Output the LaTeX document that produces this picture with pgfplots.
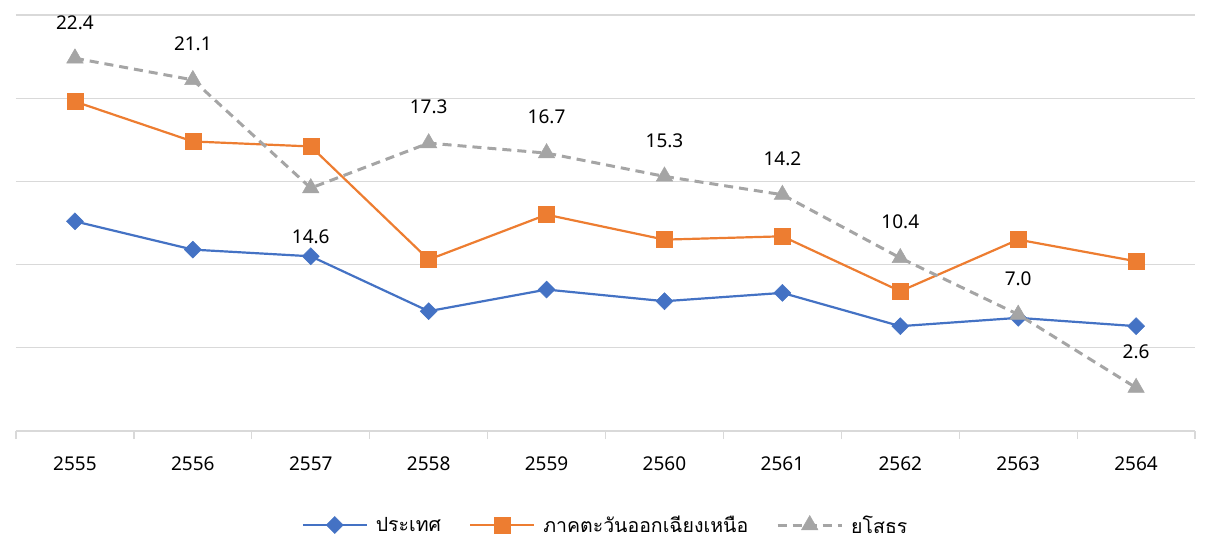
\documentclass[border=0pt]{standalone}
\usepackage{pgfplots}
\pgfplotsset{compat=1.18}
\usepackage{fontspec}
\setmainfont{Noto Sans}
\newfontfamily\thai[Script=Thai]{Loma}
\definecolor{cblue}{HTML}{4472C4}
\definecolor{corange}{HTML}{ED7D31}
\definecolor{cgray}{HTML}{A5A5A5}
\definecolor{cgrid}{HTML}{D9D9D9}
\begin{document}
\begin{tikzpicture}[x=1pt,y=1pt]
\path (0,0) rectangle (1205,541);
\begin{axis}[
  at={(16pt,110pt)}, anchor=south west,
  scale only axis, width=1179pt, height=416pt,
  xmin=-0.5, xmax=9.5, ymin=0, ymax=25,
  xtick={0,...,9},
  xticklabels={2555,2556,2557,2558,2559,2560,2561,2562,2563,2564},
  minor xtick={-0.5,0.5,...,9.5},
  major tick length=0pt, minor tick length=8pt,
  tick align=outside,
  x tick style={draw=cgrid, line width=1.2pt},
  xticklabel style={font=\fontsize{19}{22}\selectfont, yshift=-22pt},
  ytick={0,5,...,25}, yticklabels={}, ytick style={draw=none},
  ymajorgrids, grid style={cgrid, line width=1.2pt},
  axis x line*=bottom, axis y line*=left,
  x axis line style={draw=cgrid, line width=1.2pt, -},
  y axis line style={draw=none},
  /pgf/number format/assume math mode=true,
  legend columns=3,
  legend style={at={(0.5,-0.2260)}, anchor=center, draw=none, fill=none,
    font=\thai\fontsize{19.5}{22}\selectfont, inner sep=1pt,
    /tikz/every odd column/.append style={column sep=6pt},
    /tikz/every even column/.append style={column sep=26pt}},
  legend image code/.code={\draw[mark repeat=2,mark phase=2] plot coordinates {(0pt,0pt) (32pt,0pt) (64pt,0pt)};},
  clip=false,
]
\addplot[cblue, line width=2.2pt, mark=square*, mark size=6pt, mark options={solid, fill=cblue, line width=0.5pt, rotate=45}]
  coordinates {(0,12.6) (1,10.9) (2,10.5) (3,7.2) (4,8.5) (5,7.8) (6,8.3) (7,6.3) (8,6.8) (9,6.3)};
\addlegendentry{ประเทศ}
\addplot[corange, line width=2.2pt, mark=square*, mark size=8pt, mark options={solid, fill=corange, line width=0.5pt}]
  coordinates {(0,19.8) (1,17.4) (2,17.1) (3,10.3) (4,13.0) (5,11.5) (6,11.7) (7,8.4) (8,11.5) (9,10.2)};
\addlegendentry{ภาคตะวันออกเฉียงเหนือ}
\addplot[cgray, line width=3pt, dash pattern=on 9pt off 6pt, mark=triangle*, mark size=9.5pt,
  mark options={solid, fill=cgray, line width=0.5pt},
  nodes near coords, point meta=explicit,
  every node near coord/.append style={black, anchor=center, yshift=36pt,
    font=\fontsize{19}{22}\selectfont,
    /pgf/number format/.cd, fixed, fixed zerofill, precision=1, assume math mode=true},
  coordinate style/.condition={\coordindex==2}{yshift=-85pt},
]
  coordinates {(0,22.4)[22.4] (1,21.1)[21.1] (2,14.6)[14.6] (3,17.3)[17.3] (4,16.7)[16.7] (5,15.3)[15.3] (6,14.2)[14.2] (7,10.4)[10.4] (8,7.0)[7.0] (9,2.6)[2.6]};
\addlegendentry{ยโสธร}
\end{axis}
\end{tikzpicture}
\end{document}
